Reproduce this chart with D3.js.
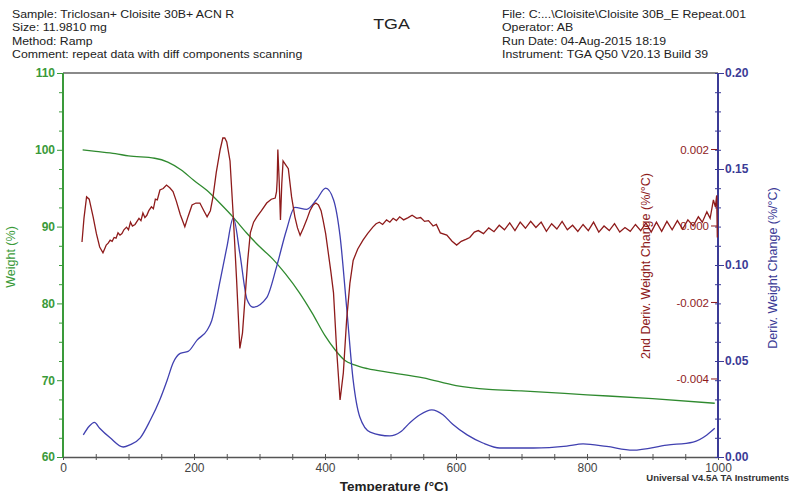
<!DOCTYPE html>
<html>
<head>
<meta charset="utf-8">
<script src="https://cdn.jsdelivr.net/npm/d3@7"></script>
<style>
  body { margin: 0; background: #fff; }
  svg text { font-family: "Liberation Sans", Arial, sans-serif; }
</style>
</head>
<body>
<div id="tga"></div>
<script>
// TGA thermogram: weight, derivative and 2nd derivative vs temperature

var headerLeft = ["Sample: Triclosan+ Cloisite 30B+ ACN R", "Size:  11.9810 mg", "Method: Ramp",
  "Comment: repeat data with diff components scanning"];
var headerRight = ["File: C:...\\Cloisite\\Cloisite 30B_E Repeat.001", "Operator: AB",
  "Run Date: 04-Aug-2015 18:19", "Instrument: TGA Q50 V20.13 Build 39"];

var xTicks = [0, 200, 400, 600, 800, 1000];
var weightTicks = [60, 70, 80, 90, 100, 110];
var derivTicks = [0.00, 0.05, 0.10, 0.15, 0.20];
var deriv2Ticks = [-0.004, -0.002, 0.000, 0.002];

// Weight (%)
var weightT = [30, 50, 80, 100, 140, 160, 180, 200, 220, 240, 260, 280, 300, 320, 340, 360, 380, 400, 415, 430, 445, 465, 500, 550, 600, 650, 700, 800, 900, 995];
var weightV = [100.0, 99.8, 99.5, 99.2, 98.9, 98.4, 97.4, 96.0, 94.7, 93.0, 91.2, 89.2, 87.4, 85.8, 83.8, 81.5, 78.8, 75.8, 74.0, 72.6, 72.0, 71.5, 71.0, 70.3, 69.3, 68.8, 68.6, 68.1, 67.6, 67.0];

// Deriv. weight change (%/°C)
var derivT = [31, 40, 48, 56, 72, 92, 102, 118, 133, 148, 159, 168, 179, 191, 205, 220, 227, 240, 250, 260, 270, 281, 290, 311, 326, 341, 354, 372, 387, 401, 413, 423, 433, 443, 453, 469, 499, 515, 530, 545, 563, 580, 595, 617, 641, 667, 718, 769, 794, 830, 870, 922, 962, 983, 995];
var derivV = [0.0115, 0.016, 0.018, 0.015, 0.010, 0.0052, 0.0063, 0.010, 0.019, 0.030, 0.040, 0.049, 0.054, 0.055, 0.061, 0.066, 0.071, 0.092, 0.109, 0.1245, 0.106, 0.082, 0.078, 0.083, 0.099, 0.118, 0.130, 0.129, 0.134, 0.140, 0.134, 0.115, 0.078, 0.040, 0.021, 0.013, 0.011, 0.013, 0.018, 0.022, 0.0245, 0.022, 0.017, 0.0115, 0.0073, 0.0047, 0.0047, 0.0057, 0.0068, 0.0055, 0.0036, 0.0062, 0.0078, 0.0115, 0.015];

// 2nd deriv. weight change, [temperature, value]
var deriv2Pts = [
  [29, -0.00042], [32, 0.0002], [36, 0.00076], [40, 0.0007], [46, 0.00024], [51, -0.0002], [56, -0.00055],
  [61, -0.0007], [64, -0.00058], [66, -0.0005], [69, -0.00045], [72, -0.00037], [75, -0.0004], [78, -0.0003],
  [81, -0.00032], [84, -0.00018], [87, -0.00024], [90, -0.0002], [93, -0.0001], [97, -0.00003], [100, -0.0001],
  [103, 0.0001], [106, 0.0], [110, 0.00004], [113, 0.00012], [116, 0.0002], [119, 0.00014], [122, 0.00034],
  [125, 0.00022], [128, 0.00028], [131, 0.0004], [135, 0.0005], [138, 0.00045], [141, 0.0007], [144, 0.00068],
  [148, 0.00094], [153, 0.00098], [158, 0.00107], [163, 0.001], [168, 0.0009], [173, 0.00065], [179, 0.0003],
  [186, -0.00002], [191, 0.00025], [197, 0.00055], [203, 0.0006], [209, 0.0006], [215, 0.0004], [220, 0.00024],
  [225, 0.0004], [229, 0.00076], [234, 0.0014], [240, 0.002], [244, 0.0023], [247, 0.0023], [250, 0.0022],
  [255, 0.0017], [260, 0.00024], [265, -0.0014], [270, -0.0032], [274, -0.0028], [278, -0.00186], [282, -0.0009],
  [286, -0.00018], [291, 0.0001], [296, 0.00024], [303, 0.0004], [311, 0.0006], [318, 0.0007], [324, 0.00073],
  [326, 0.0009], [327, 0.0012], [328, 0.002], [330, 0.0012], [332, 0.00016], [334, 0.0011], [336, 0.0017],
  [340, 0.0016], [344, 0.0015], [349, 0.00076], [354, 0.00024], [358, -0.00005], [362, -0.00024], [367, -0.00005],
  [372, 0.00016], [377, 0.0004], [382, 0.00055], [386, 0.0006], [390, 0.00055], [394, 0.0004], [397, 0.00016],
  [401, -0.0002], [405, -0.0007], [409, -0.0012], [413, -0.00175], [418, -0.0033], [423, -0.00455], [428, -0.00384],
  [433, -0.00246], [438, -0.0015], [443, -0.0009], [450, -0.0006], [458, -0.00037], [465, -0.0002], [473, -0.00003],
  [478, 0.00006], [483, 0.0001], [488, 0.00004], [494, 0.00016], [499, 0.0001], [504, 0.0002], [509, 0.00014],
  [514, 0.00024], [520, 0.00016], [527, 0.00022], [533, 0.00028], [540, 0.0002], [546, 0.00022], [552, 0.00012],
  [558, 0.00014], [565, 0.0], [570, 0.00004], [576, -0.00018], [586, -0.00024], [594, -0.0004], [601, -0.0005],
  [608, -0.0004], [615, -0.00035], [621, -0.0003], [628, -0.00016],
  [634, -0.00012], [642, -0.0002], [650, -0.00005], [658, -0.00015], [666, 0.00002], [674, -0.0001], [682, 0.00008],
  [690, -0.00012], [698, 0.0001], [706, -0.00006], [714, 0.00012], [722, -0.00004], [730, 0.0001], [738, -0.00014],
  [746, 0.00006], [754, -0.00008], [762, 0.00012], [770, -0.0001], [778, 0.00002], [786, -0.00014], [794, 0.00004],
  [802, -0.00012], [810, 0.0001], [818, -0.00016], [826, 0.0], [834, -0.00012], [842, 0.00006], [850, -0.00016],
  [858, -0.00004], [866, -0.00014], [874, 0.00004], [882, -0.00012], [890, 0.00008], [898, -0.00016], [906, 0.0001],
  [914, -0.00014], [922, 0.00012], [930, -0.0001], [938, 0.00014], [946, -0.00008], [954, 0.00016], [962, 0.0],
  [970, 0.00024], [976, 0.0001], [983, 0.00037], [988, 0.0002], [993, 0.00068], [996, 0.0005], [998, 0.0008],
  [999, -0.0003]
];

var green = "#3a9a3a", blue = "#3b3b96", red = "#8e1b1b";

var W = 791, H = 491;
var pLeft = 63, pRight = 718, pTop = 73, pBottom = 457;

var svg = d3.select("#tga").append("svg")
  .attr("width", W)
  .attr("height", H);

var x = d3.scaleLinear().domain([0, 1000]).range([pLeft, pRight]);
var yW = d3.scaleLinear().domain([60, 110]).range([pBottom, pTop]);
var yD = d3.scaleLinear().domain([0, 0.20]).range([pBottom, pTop]);
var yR = d3.scaleLinear().domain([-0.00604, 0.004]).range([pBottom, pTop]);

// header text (source image is stretched a bit horizontally)
var hdr = svg.append("g").attr("font-size", 11).attr("fill", "#222");
headerLeft.forEach(function(t, i) {
  hdr.append("text").attr("transform", "translate(12," + (18 + i * 13.3) + ") scale(1.12,1)").text(t);
});
headerRight.forEach(function(t, i) {
  hdr.append("text").attr("transform", "translate(502," + (18 + i * 13.3) + ") scale(1.12,1)").text(t);
});
svg.append("text")
  .attr("transform", "translate(391.5,29) scale(1.15,1)")
  .attr("text-anchor", "middle")
  .attr("font-size", 15.5)
  .attr("fill", "#222")
  .text("TGA");

// frame
svg.append("line")
  .attr("x1", pLeft).attr("x2", pRight).attr("y1", pTop).attr("y2", pTop)
  .attr("stroke", "#8a8a8a").attr("stroke-width", 2);

// bottom axis
var xAxis = d3.axisBottom(x)
  .tickValues(d3.range(0, 1001, 50))
  .tickSize(0)
  .tickFormat(function(d) { return xTicks.indexOf(d) >= 0 ? d : ""; });
var gx = svg.append("g")
  .attr("transform", "translate(0," + pBottom + ")")
  .call(xAxis);
gx.select(".domain").attr("stroke", "#555").attr("stroke-width", 1.5);
gx.selectAll(".tick line").attr("y1", -3).attr("y2", 3).attr("stroke", "#555");
gx.selectAll(".tick text").attr("font-size", 12).attr("fill", "#444").attr("y", 6).attr("dy", "0.71em");

// left axis, weight
var yAxis = d3.axisLeft(yW)
  .tickValues(d3.range(60, 110.1, 2.5))
  .tickSize(5)
  .tickFormat(function(d) { return weightTicks.indexOf(d) >= 0 ? d : ""; });
var gy = svg.append("g")
  .attr("transform", "translate(" + pLeft + ",0)")
  .call(yAxis);
gy.select(".domain").attr("stroke", green).attr("stroke-width", 2).attr("d", "M0," + pTop + "V" + pBottom);
gy.selectAll(".tick line").attr("stroke", green)
  .attr("x2", function(d) { return weightTicks.indexOf(d) >= 0 ? -6 : -4; });
gy.selectAll(".tick text").attr("font-size", 12).attr("font-weight", "bold").attr("fill", green).attr("x", -8);

// right axis, derivative
function isMajor(d) {
  return derivTicks.some(function(t) { return Math.abs(t - d) < 1e-9; });
}
var dAxis = d3.axisRight(yD)
  .tickValues(d3.range(0, 21, 1).map(function(d) { return d / 100; }))
  .tickSize(5)
  .tickFormat(function(d) { return isMajor(d) ? d3.format(".2f")(d) : ""; });
var gd = svg.append("g")
  .attr("transform", "translate(" + pRight + ",0)")
  .call(dAxis);
gd.select(".domain").attr("stroke", blue).attr("stroke-width", 2).attr("d", "M0," + pTop + "V" + pBottom);
gd.selectAll(".tick line").attr("stroke", blue)
  .attr("x1", -3)
  .attr("x2", function(d) { return isMajor(d) ? 6 : 3; });
gd.selectAll(".tick text").attr("font-size", 12).attr("font-weight", "bold").attr("fill", blue).attr("x", 7);

// inner axis labels, 2nd derivative
var gr = svg.append("g").selectAll("g")
  .data(deriv2Ticks)
  .enter().append("g")
  .attr("transform", function(d) { return "translate(0," + yR(d) + ")"; });
gr.append("line")
  .attr("x1", pRight - 7).attr("x2", pRight - 1)
  .attr("stroke", red).attr("stroke-width", 1);
gr.append("text")
  .attr("x", pRight - 9)
  .attr("dy", "0.35em")
  .attr("text-anchor", "end")
  .attr("font-size", 11.5)
  .attr("fill", red)
  .text(function(d) { return d3.format(".3f")(d).replace("−", "-"); });

// curves
function series(ts, vs) {
  return ts.map(function(t, i) { return [t, vs[i]]; });
}

svg.append("path")
  .datum(series(weightT, weightV))
  .attr("fill", "none")
  .attr("stroke", "#2f8a2f")
  .attr("stroke-width", 1.3)
  .attr("d", d3.line().curve(d3.curveMonotoneX)
    .x(function(d) { return x(d[0]); })
    .y(function(d) { return yW(d[1]); }));

svg.append("path")
  .datum(series(derivT, derivV))
  .attr("fill", "none")
  .attr("stroke", "#4040b0")
  .attr("stroke-width", 1.3)
  .attr("d", d3.line().curve(d3.curveMonotoneX)
    .x(function(d) { return x(d[0]); })
    .y(function(d) { return yD(d[1]); }));

svg.append("path")
  .datum(deriv2Pts)
  .attr("fill", "none")
  .attr("stroke", red)
  .attr("stroke-width", 1.3)
  .attr("d", d3.line()
    .x(function(d) { return x(d[0]); })
    .y(function(d) { return yR(d[1]); }));

// axis titles
svg.append("text")
  .attr("transform", "translate(15,257) rotate(-90)")
  .attr("text-anchor", "middle")
  .attr("font-size", 12.5)
  .attr("fill", green)
  .text("Weight (%)");

svg.append("text")
  .attr("transform", "translate(650,266) rotate(-90)")
  .attr("text-anchor", "middle")
  .attr("font-size", 12.5)
  .attr("fill", red)
  .text("2nd Deriv. Weight Change (%/°C)");

svg.append("text")
  .attr("transform", "translate(777,268) rotate(-90)")
  .attr("text-anchor", "middle")
  .attr("font-size", 12.5)
  .attr("fill", blue)
  .text("Deriv. Weight Change (%/°C)");

svg.append("text")
  .attr("x", 394)
  .attr("y", 491)
  .attr("text-anchor", "middle")
  .attr("font-size", 13.5)
  .attr("font-weight", "bold")
  .attr("fill", "#222")
  .text("Temperature (°C)");

svg.append("text")
  .attr("x", 789)
  .attr("y", 481)
  .attr("text-anchor", "end")
  .attr("font-size", 9.5)
  .attr("font-weight", "bold")
  .attr("fill", "#333")
  .text("Universal V4.5A TA Instruments");
</script>
</body>
</html>
